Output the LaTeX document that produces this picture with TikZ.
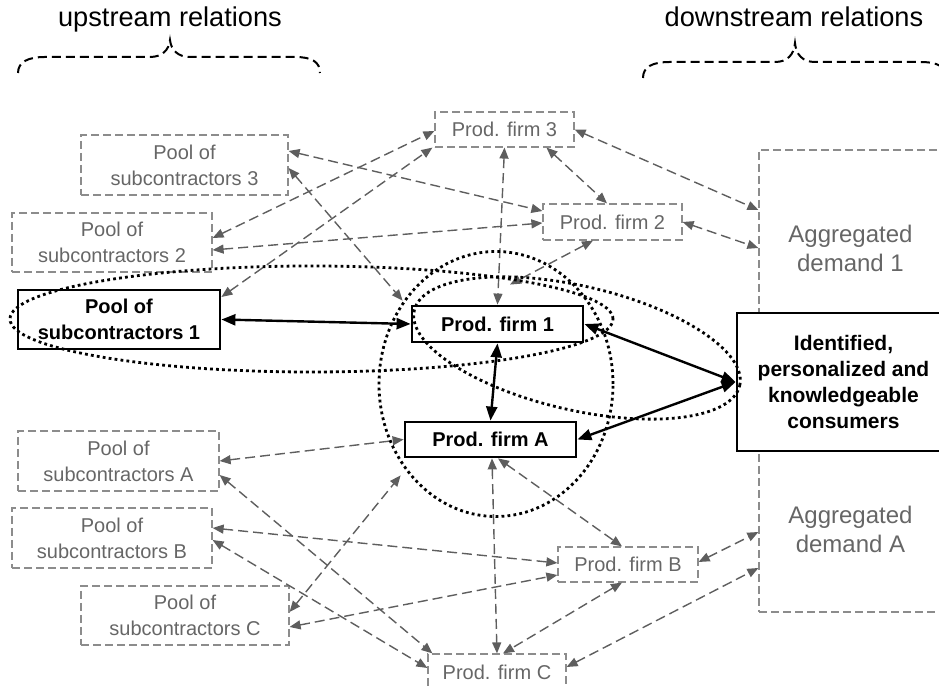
\documentclass[tikz,border=0pt]{standalone}
\usepackage{fontspec}
\setmainfont{Liberation Sans}
\usepackage{xcolor}
\usepackage{tikz}
\usetikzlibrary{arrows.meta}

\definecolor{boxgray}{HTML}{8C8C8C}
\definecolor{textgray}{HTML}{666666}
\definecolor{arrowgray}{HTML}{5E5E5E}

\begin{document}
\begin{tikzpicture}[x=0.5pt,y=-0.5pt,
  poolbox/.style={draw=boxgray,line width=0.6pt,dash pattern=on 4pt off 2pt,text=textgray,align=center,font=\fontsize{10}{13}\selectfont},
  aggbox/.style={poolbox,font=\fontsize{12}{14.5}\selectfont},
  keybox/.style={draw=black,line width=1.4pt,fill=white,align=center,font=\fontsize{10}{13}\selectfont\bfseries},
  duallink/.style={draw=arrowgray,line width=0.7pt,dash pattern=on 5pt off 2.5pt,{Triangle[length=5.5pt,width=4.5pt]}-{Triangle[length=5.5pt,width=4.5pt]}},
  corelink/.style={line width=1.2pt,{Triangle[length=7pt,width=5.5pt]}-{Triangle[length=7pt,width=5.5pt]}},
  dotring/.style={line width=1.4pt,dash pattern=on 1.4pt off 1.6pt},
  bracedash/.style={line width=1pt,dash pattern=on 4.5pt off 2.5pt}]

\useasboundingbox (0,0) rectangle (939,688);

% Headings and braces
\node[font=\fontsize{13.6}{16}\selectfont,anchor=base] (upHead) at (170,27) {upstream relations};
\node[font=\fontsize{13.6}{16}\selectfont,anchor=base] (downHead) at (794,27) {downstream relations};
\draw[bracedash] (18,73) .. controls (18,62) and (28,57) .. (45,57) -- (150,57) .. controls (162,57) and (169,50) .. (170,40)
  .. controls (171,50) and (178,57) .. (190,57) -- (295,57) .. controls (312,57) and (320,62) .. (320,73);
\draw[bracedash] (643,78) .. controls (643,67) and (652,62) .. (670,62) -- (775,62) .. controls (787,62) and (794,55) .. (795,43)
  .. controls (796,55) and (803,62) .. (815,62) -- (920,62) .. controls (938,62) and (947,67) .. (947,78);

% Aggregated demand boxes
\node[aggbox,minimum width=91.5pt,minimum height=98pt] (agg1) at (850.5,248) {Aggregated\\demand 1};
\node[aggbox,minimum width=91.5pt,minimum height=83pt] (aggA) at (850.5,529) {Aggregated\\demand A};

% Pools of subcontractors
\node[poolbox,minimum width=103.5pt,minimum height=30pt] (pool3) at (184.5,165) {Pool of\\subcontractors 3};
\node[poolbox,minimum width=100pt,minimum height=29.5pt] (pool2) at (112,242.5) {Pool of\\subcontractors 2};
\node[keybox,minimum width=101pt,minimum height=29.5pt] (pool1) at (119,319.5) {Pool of\\subcontractors 1};
\node[poolbox,minimum width=100.5pt,minimum height=30pt] (poolA) at (118.5,461) {Pool of\\subcontractors A};
\node[poolbox,minimum width=100pt,minimum height=30pt] (poolB) at (112,538) {Pool of\\subcontractors B};
\node[poolbox,minimum width=104pt,minimum height=29.5pt] (poolC) at (185,615.5) {Pool of\\subcontractors C};

% Production firms
\node[poolbox,minimum width=69.5pt,minimum height=17.5pt] (firm3) at (504.5,129.5) {Prod. firm 3};
\node[poolbox,minimum width=69.5pt,minimum height=18pt] (firm2) at (612.5,222) {Prod. firm 2};
\node[keybox,minimum width=85.5pt,minimum height=18pt] (firm1) at (497.5,324) {Prod. firm 1};
\node[keybox,minimum width=85.5pt,minimum height=17.5pt] (firmA) at (490.5,439.5) {Prod. firm A};
\node[poolbox,minimum width=70pt,minimum height=17.5pt] (firmB) at (628,564.5) {Prod. firm B};
\node[poolbox,minimum width=69pt,minimum height=18pt] (firmC) at (497,672) {Prod. firm C};

% Consumers
\node[keybox,minimum width=106.5pt,minimum height=69pt,font=\fontsize{10.5}{13}\selectfont\bfseries] (cons) at (843.5,382)
  {Identified,\\personalized and\\knowledgeable\\consumers};

% Dashed relations
\draw[duallink] ([yshift=7pt]pool3.east) -- ([yshift=5.5pt]firm2.west);
\draw[duallink] ([yshift=-1.5pt]pool3.east) -- ([xshift=-4pt,yshift=2pt]firm1.north west);
\draw[duallink] ([yshift=2.25pt]pool2.east) -- ([yshift=-0.75pt]firm3.west);
\draw[duallink] ([yshift=-3.75pt]pool2.east) -- ([yshift=-0.5pt]firm2.west);
\draw[duallink] ([yshift=11.25pt]pool1.east) -- ([xshift=-1pt]firm3.south west);
\draw[duallink] (firm3.south) -- (firm1.north);
\draw[duallink] ([xshift=21pt]firm3.south) -- ([xshift=-2.75pt]firm2.north);
\draw[duallink] (firm3.east) -- ([yshift=19pt]agg1.west);
\draw[duallink] (firm2.east) -- (agg1.west);
\draw[duallink] ([xshift=-9.75pt]firm2.south) -- ([xshift=6.25pt,yshift=10pt]firm1.north);
\draw[duallink] (poolA.east) -- (firmA.west);
\draw[duallink] ([yshift=-7pt]poolA.east) -- ([xshift=2.5pt]firmC.north west);
\draw[duallink] ([yshift=5pt]poolB.east) -- ([yshift=0.75pt]firmB.west);
\draw[duallink] ([yshift=-1pt]poolB.east) -- ([yshift=2pt]firmC.west);
\draw[duallink] ([yshift=1.75pt]poolC.east) -- ([xshift=-1.5pt,yshift=-8.5pt]firmA.south west);
\draw[duallink] ([yshift=-5.75pt]poolC.east) -- ([yshift=-5.25pt]firmB.west);
\draw[duallink] ([xshift=0.75pt]firmA.south) -- (firmC.north);
\draw[duallink] ([xshift=3.75pt]firmA.south) -- ([xshift=-3pt]firmB.north);
\draw[duallink] ([xshift=-3pt]firmB.south) -- ([xshift=3pt]firmC.north);
\draw[duallink] ([yshift=1.25pt]firmB.east) -- ([yshift=-1.5pt]aggA.west);
\draw[duallink] ([yshift=2.5pt]firmC.east) -- ([yshift=-19.5pt]aggA.west);

% Solid core relations
\draw[corelink] (pool1.east) -- (firm1.west);
\draw[corelink] (firm1.south) -- (firmA.north);
\draw[corelink] (firm1.east) -- (cons.west);
\draw[corelink] (firmA.east) -- (cons.west);

% Dotted groupings
\draw[dotring] (311.5,319) ellipse [x radius=150.75pt, y radius=26.5pt];
\draw[dotring] (496,384) ellipse [x radius=58.5pt, y radius=66.25pt];
\draw[dotring, rotate around={-13:(577,348)}] (577,348) ellipse [x radius=83.5pt, y radius=31pt];

\end{tikzpicture}
\end{document}
